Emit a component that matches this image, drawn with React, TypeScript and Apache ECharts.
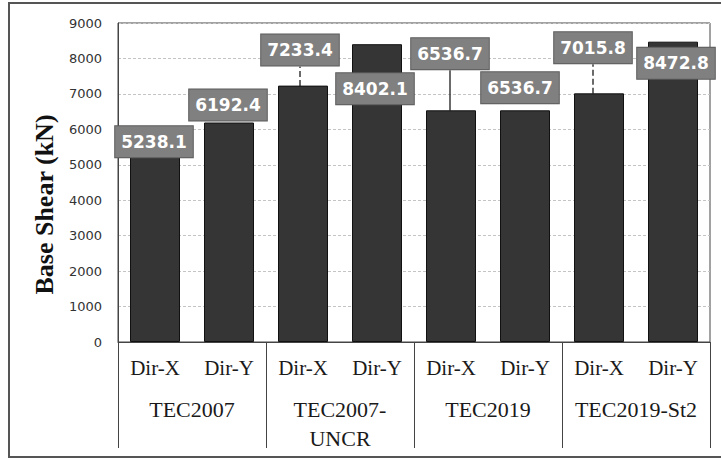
import React, { useEffect, useRef } from "react";
import * as echarts from "echarts";

const groups = ["TEC2007", "TEC2007-\nUNCR", "TEC2019", "TEC2019-St2"];
const directions = ["Dir-X", "Dir-Y"];
const baseShear = [5238.1, 6192.4, 7233.4, 8402.1, 6536.7, 6536.7, 7015.8, 8472.8];
const yTicks = { min: 0, max: 9000, step: 1000 };

// label placement tweaks (pixels), style only
const labelDx = [-1, -1, -3, -2, -1, -5, -6, 3];
const labelDy = [1, -2, -20, 60, -41, -7, -30, 37];
const leaderShow = [false, false, true, false, true, false, true, false];
const leaderType = ["solid", "solid", "dashed", "solid", "solid", "solid", "dashed", "solid"];

export default function App() {
  const ref = useRef<HTMLDivElement>(null);
  useEffect(() => {
    if (!ref.current) return;
    const chart = echarts.init(ref.current, undefined, { renderer: "svg" });
    const cats: string[] = [];
    groups.forEach((g, gi) => directions.forEach((d) => cats.push(gi + "|" + d)));
    const data = baseShear.map((v, i) => ({
      value: v,
      labelLine: {
        show: leaderShow[i],
        length2: 0,
        lineStyle: { color: "#3a3a3a", width: 1.5, type: leaderType[i] as any },
      },
    }));
    chart.setOption({
      animation: false,
      backgroundColor: "#ffffff",
      grid: {
        left: 118,
        top: 23,
        right: 11,
        bottom: 117,
        show: true,
        borderColor: "#444",
        borderWidth: 1,
      },
      xAxis: [
        {
          type: "category",
          data: cats,
          position: "bottom",
          offset: 0,
          axisLine: { show: true, lineStyle: { color: "#444", width: 1 } },
          axisTick: { show: false },
          axisLabel: {
            interval: 0,
            margin: 15,
            formatter: (v: string) => v.split("|")[1],
            fontFamily: "Liberation Serif",
            fontSize: 21,
            color: "#1a1a1a",
          },
        },
        {
          type: "category",
          data: groups,
          position: "bottom",
          offset: 0,
          axisLine: { show: false },
          axisTick: { show: true, interval: 0, length: 106, lineStyle: { color: "#444", width: 1 } },
          axisLabel: {
            interval: 0,
            margin: 53,
            fontFamily: "Liberation Serif",
            fontSize: 22,
            lineHeight: 29,
            color: "#1a1a1a",
          },
        },
      ],
      yAxis: {
        type: "value",
        min: yTicks.min,
        max: yTicks.max,
        interval: yTicks.step,
        name: "Base Shear (kN)",
        nameLocation: "middle",
        nameGap: 61,
        nameTextStyle: {
          fontFamily: "Liberation Serif",
          fontWeight: "bold",
          fontSize: 26,
          color: "#111",
          padding: [0, 44, 0, 0],
        },
        axisLine: { show: true, lineStyle: { color: "#444", width: 1 } },
        axisTick: { show: false },
        axisLabel: {
          margin: 16,
          formatter: (v: number) => String(v),
          fontFamily: "DejaVu Sans",
          fontSize: 13,
          color: "#333",
        },
        splitLine: { show: true, lineStyle: { color: "#c4c4c4", type: [3, 2], width: 1 } },
      },
      series: [
        {
          type: "bar",
          xAxisIndex: 0,
          data,
          barWidth: 50,
          itemStyle: { color: "#353535", borderColor: "#111", borderWidth: 1 },
          label: {
            show: true,
            position: "top",
            distance: 0,
            formatter: (p: any) => Number(p.value).toFixed(1),
            backgroundColor: "#808080",
            borderColor: "#5a5a5a",
            borderWidth: 1,
            padding: [7, 6, 7, 6],
            color: "#ffffff",
            fontFamily: "DejaVu Sans",
            fontWeight: "bold",
            fontSize: 17,
          },
          labelLayout: (p: any) => ({ dx: labelDx[p.dataIndex], dy: labelDy[p.dataIndex] }),
        },
      ],
      graphic: [
        {
          type: "rect",
          silent: true,
          shape: { x: 9, y: 3, width: 722, height: 454 },
          style: { fill: "none", stroke: "#555", lineWidth: 2 },
        },
      ],
    });
    return () => chart.dispose();
  }, []);
  return <div ref={ref} style={{ position: "absolute", left: 0, top: 0, width: 721, height: 459 }} />;
}
